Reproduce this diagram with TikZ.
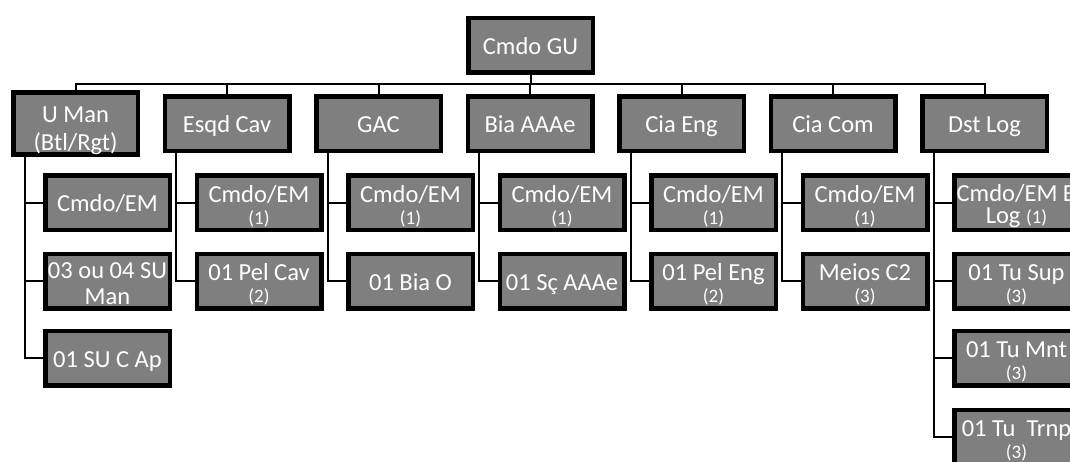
\documentclass[tikz,border=0pt]{standalone}
\usepackage{fontspec}
\setmainfont{Carlito}
\usetikzlibrary{backgrounds}
\definecolor{boxgray}{RGB}{127,127,127}
\tikzset{
  box/.style={draw=black, line width=4.5pt, fill=boxgray, text=white,
    minimum width=124.5pt, minimum height=54.5pt, inner sep=0pt, align=center,
    font=\fontsize{24.5}{28}\selectfont},
  one/.style={box, text height=18pt, text depth=0pt},
  conn/.style={draw=black, line width=2pt},
}
\newcommand{\sm}[1]{{\fontsize{19}{21}\selectfont #1}}
\newcommand{\two}[2]{\rule{0pt}{24pt}#1\\[-6pt]\sm{#2}}
\begin{document}
\begin{tikzpicture}[x=1pt,y=-1pt]
\clip (0,0) rectangle (1070,461);
% top
\node[one] (top) at (530.5,45) {Cmdo GU};
% level 1
\node[box] (p1) at (75.5,123.5) {\rule{0pt}{30pt}U Man\\(Btl/Rgt)};
\node[one] (p2) at (227,123.5) {Esqd Cav};
\node[one] (p3) at (378.5,123.5) {GAC};
\node[one] (p4) at (530,123.5) {Bia AAAe};
\node[one] (p5) at (681.5,123.5) {Cia Eng};
\node[one] (p6) at (833,123.5) {Cia Com};
\node[one] (p7) at (984.5,123.5) {Dst Log};
% children
\node[one] (c11) at (107.5,202.5) {Cmdo/EM};
\node[box] (c12) at (107.5,281) {\rule{0pt}{22pt}03 ou 04 SU\\[-2pt]Man};
\node[one] (c13) at (107.5,358) {01 SU C Ap};
\node[box] (c21) at (259,202.5) {\two{Cmdo/EM}{(1)}};
\node[box] (c22) at (259,281) {\two{01 Pel Cav}{(2)}};
\node[box] (c31) at (410.5,202.5) {\two{Cmdo/EM}{(1)}};
\node[one] (c32) at (410.5,281) {01 Bia O};
\node[box] (c41) at (562,202.5) {\two{Cmdo/EM}{(1)}};
\node[one] (c42) at (562,281) {01 Sç AAAe};
\node[box] (c51) at (713.5,202.5) {\two{Cmdo/EM}{(1)}};
\node[box] (c52) at (713.5,281) {\two{01 Pel Eng}{(2)}};
\node[box] (c61) at (865,202.5) {\two{Cmdo/EM}{(1)}};
\node[box] (c62) at (865,281) {\two{Meios C2}{(3)}};
\node[box] (c71) at (1016.5,202.5) {\rule{0pt}{24pt}Cmdo/EM B\\[-6pt]Log \sm{(1)}};
\node[box] (c72) at (1016.5,281) {\two{01 Tu Sup}{(3)}};
\node[box] (c73) at (1016.5,358) {\two{01 Tu Mnt}{(3)}};
\node[box] (c74) at (1016.5,437) {\two{01 Tu\ \ Trnp}{(3)}};
\coordinate (bus) at (0,84);
\begin{pgfonlayer}{background}
\fill[white] (0,0) rectangle (1070,461);
\draw[conn] (top.south) -- (top.south |- bus);
\draw[conn] (p1.north) -- (p1.north |- bus) -- (p7.north |- bus) -- (p7.north);
\foreach \p in {p2,p3,p4,p5,p6} \draw[conn] (\p.north) -- (\p.north |- bus);
% spines
\foreach \p/\last/\others in {p1/c13/{c11,c12}, p2/c22/{c21}, p3/c32/{c31}, p4/c42/{c41}, p5/c52/{c51}, p6/c62/{c61}, p7/c74/{c71,c72,c73}}{
  \coordinate (s) at ([xshift=13.5pt]\p.south west);
  \draw[conn] (s) |- (\last.west);
  \foreach \c in \others \draw[conn] (s |- \c.west) -- (\c.west);
}
\end{pgfonlayer}
\end{tikzpicture}
\end{document}
